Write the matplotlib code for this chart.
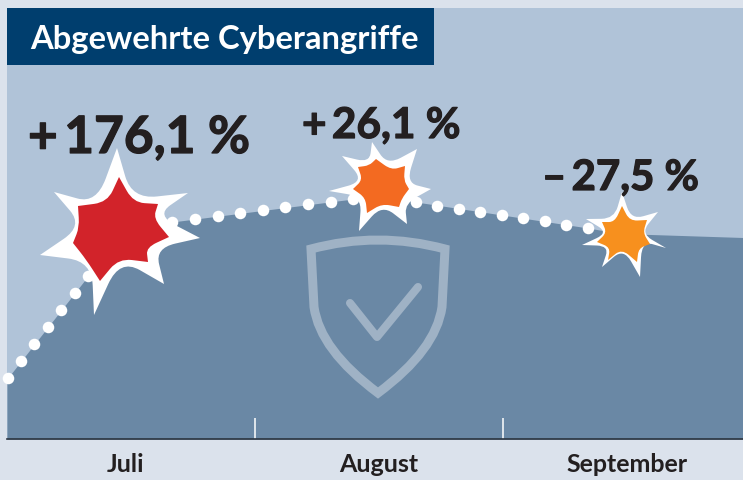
import matplotlib
matplotlib.use("Agg")
import matplotlib.pyplot as plt
import matplotlib.patheffects as pe
from matplotlib.path import Path
from matplotlib.patches import PathPatch, Rectangle

# Monate als x-Achse (1.0 = ein Monat), y in relativen Einheiten
months = ["Juli", "August", "September"]
month_pos = [0.48, 1.5, 2.5]
month_edges = [1, 2]

curve_x = [0, 0.327, 0.476, 0.665, 1.395, 1.488, 1.57, 1.649, 2.343, 2.472, 2.968]
curve_y = [59, 162, 210, 216, 239, 241, 240.5, 236, 210, 204.5, 200.5]

dots_x = [0.004, 0.056, 0.109, 0.165, 0.218, 0.274, 0.327, 0.665, 0.758, 0.851, 0.940,
          1.032, 1.121, 1.214, 1.306, 1.395, 1.649, 1.734, 1.823, 1.907, 1.996,
          2.081, 2.169, 2.254, 2.343]
dots_y = [60, 77, 94, 111, 128, 145, 162, 216, 219, 222, 225,
          228, 231, 234, 236, 239, 236, 232, 229, 226, 223,
          220, 217, 213, 210]

labels = ["+\u2009176,1 %", "+\u200926,1 %", "\u2013\u200927,5 %"]

# Sterne: Spitzen und Taeler in Pixeln
star1_outer = [(117, 148), (188, 193), (200, 238), (164, 284), (94, 315), (40, 255), (54, 192)]
star1_outer_v = [(135, 197), (160, 217), (157, 249), (122, 264), (90, 263), (80, 226), (97, 200)]
star1_inner = [(119, 177), (158, 204), (169, 237), (148, 262), (100, 281), (73, 243), (78, 206)]
star1_inner_v = [(133, 203), (152, 220), (146, 246), (120, 258), (90, 257), (83, 227), (107, 203)]

star2_outer = [(372, 142), (417, 149), (431, 189), (407, 224), (359, 231), (329, 191), (342, 156)]
star2_outer_v = [(388, 163), (407, 180), (405, 202), (382, 207), (360, 198), (360, 180), (368, 162)]
star2_inner = [(376, 159), (405, 166), (409, 189), (399, 207), (367, 213), (353, 189), (358, 167)]
star2_inner_v = [(390, 170), (402, 180), (400, 197), (382, 203), (366, 197), (363, 180), (370, 167)]

star3_outer = [(622, 192), (658, 212), (666, 248), (640, 277), (602, 267), (582, 245), (586, 219)]
star3_outer_v = [(632, 218), (643, 233), (642, 245), (623, 252), (607, 247), (605, 233), (613, 218)]
star3_inner = [(622, 206), (647, 220), (650, 244), (637, 262), (608, 260), (597, 242), (602, 222)]
star3_inner_v = [(630, 221), (642, 233), (638, 248), (622, 250), (610, 247), (607, 233), (615, 222)]

OUTER = "#dbe2ec"
PANEL = "#b0c3d8"
AREA = "#6a88a5"
TITLE = "#003e6e"
TEXT = "#231f20"
SHIELD = "#9fb2c5"


def star_patch(tips, valleys, color, t=0.55, fat=1.12):
    # gerade Kanten von der Spitze, Tal abgerundet
    cx = sum(p[0] for p in tips) / len(tips)
    cy = sum(p[1] for p in tips) / len(tips)
    verts = []
    codes = []
    for i in range(len(tips)):
        a = tips[i]
        b = tips[(i + 1) % len(tips)]
        v = (cx + fat * (valleys[i][0] - cx), cy + fat * (valleys[i][1] - cy))
        c = ((v[0] - 0.25 * (1 - t) * (a[0] + b[0])) / (0.5 * (1 + t)),
             (v[1] - 0.25 * (1 - t) * (a[1] + b[1])) / (0.5 * (1 + t)))
        p1 = (a[0] + t * (c[0] - a[0]), a[1] + t * (c[1] - a[1]))
        p2 = (b[0] + t * (c[0] - b[0]), b[1] + t * (c[1] - b[1]))
        verts += [a, p1, c, p2]
        codes += [Path.MOVETO if i == 0 else Path.LINETO, Path.LINETO, Path.CURVE3, Path.CURVE3]
    verts.append(tips[0])
    codes.append(Path.CLOSEPOLY)
    return PathPatch(Path(verts, codes), facecolor=color, edgecolor="none")


fig = plt.figure(figsize=(7.43, 4.8), dpi=100, facecolor=OUTER)

ax = fig.add_axes([7 / 743, 41 / 480, 736 / 743, 431 / 480], facecolor=PANEL)
ax.set_xlim(0, 736 / 248)
ax.set_ylim(-1, 430)
ax.fill_between(curve_x, curve_y, -1, color=AREA, lw=0)
ax.plot(dots_x, dots_y, "o", color="white", ms=8.3, mew=0, clip_on=False, zorder=4)

for s in ["top", "left", "right"]:
    ax.spines[s].set_visible(False)
ax.spines["bottom"].set_color("#2b3440")
ax.spines["bottom"].set_linewidth(1.2)
ax.set_yticks([])
ax.set_xticks(month_edges)
ax.set_xticklabels([])
ax.tick_params(axis="x", which="major", direction="in", length=15, width=1.1, color="white")
ax.set_xticks(month_pos, minor=True)
ax.set_xticklabels(months, minor=True, fontfamily="Lato", fontweight="bold", fontsize=18, color=TEXT)
ax.tick_params(axis="x", which="minor", length=0, pad=10)

# Overlay in Pixeln fuer Titel, Schild und Sterne
top = fig.add_axes([0, 0, 1, 1], facecolor="none")
top.set_xlim(0, 743)
top.set_ylim(480, 0)
top.axis("off")

top.add_patch(Rectangle((7, 8), 427, 57, facecolor=TITLE, edgecolor="none"))
top.text(30, 49, "Abgewehrte Cyberangriffe", color="white", fontfamily="Lato", fontweight="bold",
         fontsize=23.6, ha="left", va="baseline")

shield_verts = [(311, 249), (378, 231), (445, 249), (442, 307), (436, 350), (378, 393),
                (320, 350), (314, 307), (311, 249)]
shield_codes = [Path.MOVETO, Path.CURVE3, Path.CURVE3, Path.LINETO, Path.CURVE3, Path.CURVE3,
                Path.CURVE3, Path.CURVE3, Path.CLOSEPOLY]
top.add_patch(PathPatch(Path(shield_verts, shield_codes), facecolor="none", edgecolor=SHIELD,
                        lw=6.5, joinstyle="miter"))
top.plot([350, 377, 418], [303, 337, 287], color=SHIELD, lw=5.8, solid_capstyle="round",
         solid_joinstyle="round")

top.add_patch(star_patch(star1_outer, star1_outer_v, "white"))
top.add_patch(star_patch(star1_inner, star1_inner_v, "#d2232a"))
top.add_patch(star_patch(star2_outer, star2_outer_v, "white"))
top.add_patch(star_patch(star2_inner, star2_inner_v, "#f36a21"))
top.add_patch(star_patch(star3_outer, star3_outer_v, "white"))
top.add_patch(star_patch(star3_inner, star3_inner_v, "#f7901e"))

for txt, x, y, size in zip(labels, [28, 302, 542], [153, 138, 190], [37, 30.5, 30.2]):
    top.text(x, y, txt, color=TEXT, fontfamily=["Lato", "DejaVu Sans"], fontweight="bold",
             fontsize=size, ha="left", va="baseline",
             path_effects=[pe.withStroke(linewidth=0.9, foreground=TEXT)])

fig.savefig("out.png", dpi=100, facecolor=OUTER)
